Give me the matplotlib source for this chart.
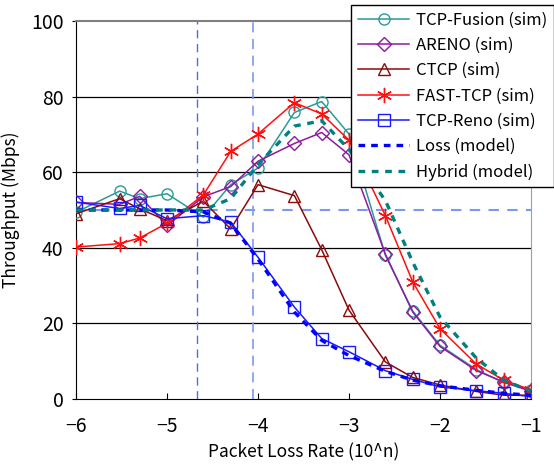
import matplotlib
matplotlib.use("Agg")
import matplotlib.pyplot as plt

plt.rcParams['font.family'] = ['Noto Sans CJK JP', 'DejaVu Sans']

x = [-6, -5.52, -5.3, -5, -4.6, -4.3, -4, -3.6, -3.3, -3, -2.6, -2.3, -2, -1.6, -1.3, -1]
fusion = [49.4, 55.0, 53.0, 54.3, 48.1, 56.7, 61.1, 75.8, 78.7, 70.1, 38.0, 23.3, 14.2, 7.8, 4.3, 2.5]
areno = [52.0, 51.5, 53.6, 45.9, 53.5, 56.2, 62.9, 67.6, 70.5, 64.6, 38.3, 23.0, 13.9, 7.5, 4.5, 2.0]
ctcp = [49.0, 53.0, 50.3, 47.2, 52.3, 45.0, 56.7, 53.8, 39.5, 23.5, 9.8, 5.7, 3.7, 2.0, 1.0, 1.0]
fast = [40.2, 41.1, 42.6, 46.5, 54.0, 65.5, 70.1, 78.4, 75.4, 68.5, 48.5, 31.0, 18.6, 9.2, 5.0, 2.4]
reno = [52.1, 50.4, 51.2, 47.7, 48.5, 46.8, 37.5, 24.3, 16.0, 12.5, 7.5, 5.2, 3.2, 2.2, 1.5, 0.6]
loss_model = [50, 50, 50, 50, 49.5, 46.5, 37.0, 23.0, 15.5, 11.5, 7.3, 5.0, 3.5, 2.3, 1.5, 1.0]
hybrid_model = [50, 50, 50, 50, 50, 53.0, 62.0, 72.2, 73.6, 66.0, 52.5, 36.2, 21.7, 10.8, 5.0, 2.0]

vlines = [-4.667, -4.05]
hline = 50

xticks = [-6, -5, -4, -3, -2, -1]
yticks = [0, 20, 40, 60, 80, 100]

fig = plt.figure(figsize=(5.54, 4.67), dpi=100)
ax = fig.add_axes([76/554, 1-399/467, (531-76)/554, (399-21)/467])

ax.set_xlim(-6, -1)
ax.set_ylim(0, 100)

for yv in [20, 40, 60, 80]:
    ax.axhline(yv, color='black', lw=0.9, zorder=0)

ax.axvline(vlines[0], color='#4a6ee8', lw=1.0, ls=(0, (6, 4)), zorder=1)
ax.axvline(vlines[1], color='#7a9af2', lw=1.2, ls=(0, (6, 4)), zorder=1)
ax.axhline(hline, color='#7a9af2', lw=1.5, ls=(0, (5, 4)), zorder=1)

ms = 8
ax.plot(x, fusion, color='#2a9a9a', lw=1.1, marker='o', ms=ms, mfc='none', mew=1.0, label='TCP-Fusion (sim)', zorder=3)
ax.plot(x, areno, color='#8e1a9e', lw=1.1, marker='D', ms=ms-1, mfc='none', mew=1.0, label='ARENO (sim)', zorder=3)
ax.plot(x, ctcp, color='#8b0a0a', lw=1.1, marker='^', ms=ms+1, mfc='none', mew=1.0, label='CTCP (sim)', zorder=3)
ax.plot(x, fast, color='#ff1010', lw=1.1, marker=(6, 2, 0), ms=ms+3, mew=1.0, label='FAST-TCP (sim)', zorder=3)
ax.plot(x, reno, color='#1a1aff', lw=1.1, marker='s', ms=ms, mfc='none', mew=1.0, label='TCP-Reno (sim)', zorder=3)
ax.plot(x, loss_model, color='#0000ff', lw=2.4, ls=(0, (2.0, 1.8)), label='Loss (model)', zorder=4)
ax.plot(x, hybrid_model, color='#008080', lw=2.4, ls=(0, (2.0, 2.0)), label='Hybrid (model)', zorder=4)

ax.set_xticks(xticks)
ax.set_xticklabels(['\u2212%d' % abs(v) for v in xticks])
ax.set_yticks(yticks)
ax.tick_params(axis='x', direction='in', length=4, labelsize=14, pad=12)
ax.tick_params(axis='y', direction='out', length=3, labelsize=14, pad=6)

ax.spines['left'].set_color('black')
ax.spines['bottom'].set_color('black')
ax.spines['top'].set_color('#808080')
ax.spines['right'].set_color('#a0a0a0')
ax.spines['top'].set_linewidth(1.5)

ax.set_xlabel('Packet Loss Rate (10^n)', fontsize=12.5, labelpad=5)
ax.set_ylabel('Throughput (Mbps)', fontsize=12.5, labelpad=8)

leg = fig.legend(loc='upper right', bbox_to_anchor=(1.0, 0.99), fontsize=12,
                 frameon=True, fancybox=False, edgecolor='black', framealpha=1,
                 handlelength=3.1, labelspacing=0.5, borderpad=0.4, handletextpad=0.4,
                 borderaxespad=0)
leg.get_frame().set_linewidth(1.0)
leg.set_zorder(10)

fig.savefig('out.png', dpi=100)
